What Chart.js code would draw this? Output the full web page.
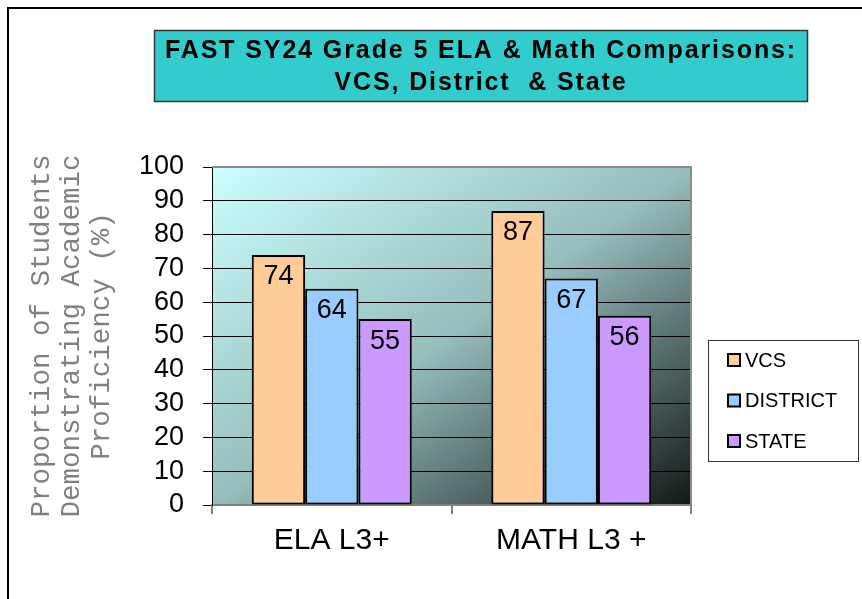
<!DOCTYPE html>
<html>
<head>
<meta charset="utf-8">
<title>FAST SY24 Grade 5 ELA & Math Comparisons</title>
<script src="https://cdn.jsdelivr.net/npm/chart.js@4.4.1/dist/chart.umd.min.js"></script>
<style>
    html, body { margin: 0; padding: 0; background: #fff; }
    canvas { display: block; }
</style>
</head>
<body>
<canvas id="myChart" width="862" height="599"></canvas>
<script>
const categories = ["ELA L3+", "MATH L3 +"];
const seriesNames = ["VCS", "DISTRICT", "STATE"];
const vcsValues = [74, 87];
const districtValues = [64, 67];
const stateValues = [55, 56];
const seriesColors = ["#FFCC99", "#99CCFF", "#CC99FF"];
const titleLines = ["FAST SY24 Grade 5 ELA & Math Comparisons:", "VCS, District  & State"];
const yTitleLines = ["Proportion of Students", "Demonstrating Academic", "Proficiency (%)"];
const yMin = 0;
const yMax = 100;
const yStep = 10;

const sans = "'Liberation Sans', Arial, sans-serif";

// frame, plot background, title box, plot border, value labels, legend box
const decorations = {
    id: "decorations",
    beforeDraw(chart) {
        const ctx = chart.ctx;
        const a = chart.chartArea;
        ctx.save();

        // outer frame (runs off the right and bottom edges)
        ctx.strokeStyle = "#000";
        ctx.lineWidth = 2;
        ctx.beginPath();
        ctx.moveTo(8, 599);
        ctx.lineTo(8, 8);
        ctx.lineTo(862, 8);
        ctx.stroke();

        // diagonal gradient in the plot area
        const w = a.right - a.left;
        const h = a.bottom - a.top;
        const k = 2 / (1 / (w * w) + 1 / (h * h));
        const g = ctx.createLinearGradient(a.left, a.top, a.left + k / w, a.top + k / h);
        g.addColorStop(0, "#ccffff");
        g.addColorStop(0.5, "#95bebd");
        g.addColorStop(1, "#121817");
        ctx.fillStyle = g;
        ctx.fillRect(a.left, a.top, w, h);

        // title box
        ctx.fillStyle = "#33cccc";
        ctx.fillRect(154, 30, 654, 72);
        ctx.strokeStyle = "#333";
        ctx.lineWidth = 1.5;
        ctx.strokeRect(154.5, 30.5, 653, 71);

        ctx.fillStyle = "#000";
        ctx.font = "bold 25px " + sans;
        ctx.textAlign = "center";
        ctx.textBaseline = "middle";
        if ("letterSpacing" in ctx) ctx.letterSpacing = "1.9px";
        ctx.fillText(titleLines[0], 481, 51);
        ctx.fillText(titleLines[1], 481, 83);
        ctx.restore();
    },
    beforeDatasetsDraw(chart) {
        const ctx = chart.ctx;
        const a = chart.chartArea;
        ctx.save();
        ctx.strokeStyle = "#8c8c8c";
        ctx.lineWidth = 2;
        ctx.beginPath();
        ctx.moveTo(a.left, a.top);
        ctx.lineTo(a.right, a.top);
        ctx.lineTo(a.right, a.bottom);
        ctx.stroke();
        ctx.restore();
    },
    afterDatasetsDraw(chart) {
        const ctx = chart.ctx;
        ctx.save();
        ctx.fillStyle = "#000";
        ctx.font = "27px " + sans;
        ctx.textAlign = "center";
        ctx.textBaseline = "middle";
        chart.data.datasets.forEach(function (ds, i) {
            const meta = chart.getDatasetMeta(i);
            meta.data.forEach(function (bar, j) {
                ctx.fillText(String(ds.data[j]), bar.x, bar.y + 22);
            });
        });
        ctx.restore();
    },
    afterDraw(chart) {
        const ctx = chart.ctx;
        ctx.save();
        ctx.strokeStyle = "#333";
        ctx.lineWidth = 1;
        ctx.strokeRect(708.5, 340.5, 150, 121);

        ctx.font = "20px " + sans;
        ctx.textAlign = "left";
        ctx.textBaseline = "middle";
        chart.data.datasets.forEach(function (ds, i) {
            const y = 360 + i * 40.5;
            ctx.fillStyle = ds.backgroundColor;
            ctx.fillRect(728, y - 6, 12, 12);
            ctx.strokeStyle = "#000";
            ctx.lineWidth = 2;
            ctx.strokeRect(728, y - 6, 12, 12);
            ctx.fillStyle = "#000";
            ctx.fillText(ds.label, 745, y + 1);
        });
        ctx.restore();
    },
};

const seriesValues = [vcsValues, districtValues, stateValues];
const datasets = seriesNames.map(function (name, i) {
    return {
        label: name,
        data: seriesValues[i],
        backgroundColor: seriesColors[i],
        borderColor: "#000",
        borderWidth: 2,
        borderSkipped: false,
        categoryPercentage: 0.668,
        barPercentage: 1,
    };
});

new Chart(document.getElementById("myChart"), {
    type: "bar",
    data: {
        labels: categories,
        datasets: datasets,
    },
    options: {
        responsive: false,
        animation: false,
        devicePixelRatio: 1,
        layout: {
            padding: { top: 167, right: 171, bottom: 31, left: 27 },
        },
        plugins: {
            legend: { display: false },
            title: { display: false },
            tooltip: { enabled: false },
        },
        scales: {
            x: {
                grid: {
                    display: true,
                    drawOnChartArea: false,
                    drawTicks: true,
                    tickLength: 9,
                    color: "#808080",
                    lineWidth: 2,
                },
                border: { color: "#808080", width: 2 },
                ticks: {
                    color: "#000",
                    padding: 12,
                    font: { family: sans, size: 30, lineHeight: 1 },
                },
            },
            y: {
                min: yMin,
                max: yMax,
                grid: {
                    color: "#000",
                    lineWidth: 1,
                    tickLength: 9,
                },
                border: { color: "#000", width: 1 },
                ticks: {
                    stepSize: yStep,
                    color: "#000",
                    padding: 19,
                    font: { family: sans, size: 27, lineHeight: 1 },
                },
                title: {
                    display: true,
                    text: yTitleLines,
                    color: "#808080",
                    padding: { top: 0, bottom: 3 },
                    font: { family: "'Liberation Mono', 'Courier New', monospace", size: 27.5, lineHeight: 30 / 27.5 },
                },
            },
        },
    },
    plugins: [decorations],
});
</script>
</body>
</html>
